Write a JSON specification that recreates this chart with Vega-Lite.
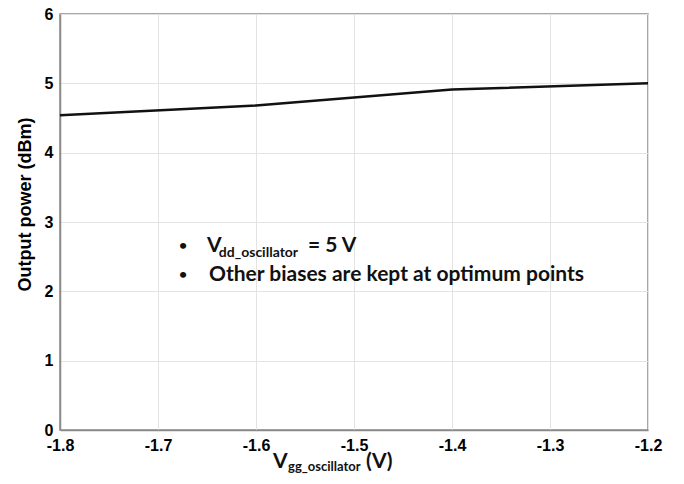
{
  "$schema": "https://vega.github.io/schema/vega-lite/v6.json",
  "width": 588,
  "height": 416,
  "autosize": {"type": "none"},
  "padding": {"left": 60, "top": 14, "right": 36, "bottom": 54},
  "background": "white",
  "config": {
    "view": {"stroke": "#8a8a8a", "strokeWidth": 1.5},
    "axis": {
      "labelFont": "Liberation Sans",
      "labelFontWeight": "bold",
      "labelFontSize": 16,
      "labelColor": "#000000",
      "gridColor": "#e3e3e3",
      "gridWidth": 1,
      "domainColor": "#8a8a8a",
      "domainWidth": 1.5,
      "ticks": false,
      "titleFont": "Liberation Sans",
      "titleFontWeight": "bold",
      "titleColor": "#000000"
    }
  },
  "datasets": {
    "curve": [
      {"vgg": -1.8, "pout": 4.54},
      {"vgg": -1.6, "pout": 4.68},
      {"vgg": -1.4, "pout": 4.91},
      {"vgg": -1.2, "pout": 5.0}
    ],
    "bullets": [
      {"x": -1.6745, "y": 2.66, "t": "•"},
      {"x": -1.6745, "y": 2.24, "t": "•"}
    ],
    "mainText": [
      {"x": -1.650, "y": 2.66, "t": "V"},
      {"x": -1.547, "y": 2.66, "t": "= 5 V"},
      {"x": -1.648, "y": 2.24, "t": "Other biases are kept at optimum points"},
      {"x": -1.5827, "y": -0.46, "t": "V"},
      {"x": -1.4878, "y": -0.46, "t": "(V)"}
    ],
    "subText": [
      {"x": -1.638, "y": 2.55, "t": "dd_oscillator"}
    ],
    "subTitle": [
      {"x": -1.5673, "y": -0.53, "t": "gg_oscillator"}
    ]
  },
  "encoding": {
    "x": {
      "type": "quantitative",
      "scale": {"domain": [-1.8, -1.2], "nice": false, "zero": false},
      "axis": {"values": [-1.8, -1.7, -1.6, -1.5, -1.4, -1.3, -1.2], "labelExpr": "replace(format(datum.value, '.1f'), '\u2212', '-')", "title": null, "labelPadding": 7, "labelFlush": false}
    },
    "y": {
      "type": "quantitative",
      "scale": {"domain": [0, 6], "nice": false},
      "axis": {"values": [0, 1, 2, 3, 4, 5, 6], "title": "Output power (dBm)", "titleFontSize": 18, "titlePadding": 10, "labelPadding": 7, "titleY": 190}
    }
  },
  "layer": [
    {
      "data": {"name": "curve"},
      "mark": {"type": "line", "color": "#111111", "strokeWidth": 2.5},
      "encoding": {
        "x": {"field": "vgg", "type": "quantitative"},
        "y": {"field": "pout", "type": "quantitative"}
      }
    },
    {
      "data": {"name": "bullets"},
      "mark": {"type": "text", "font": "Lato", "fontWeight": "bold", "fontSize": 14, "align": "center", "baseline": "middle", "color": "#111111"},
      "encoding": {
        "x": {"field": "x", "type": "quantitative"},
        "y": {"field": "y", "type": "quantitative"},
        "text": {"field": "t"}
      }
    },
    {
      "data": {"name": "mainText"},
      "mark": {"type": "text", "font": "Lato", "fontWeight": "bold", "fontSize": 21, "align": "left", "baseline": "middle", "color": "#111111"},
      "encoding": {
        "x": {"field": "x", "type": "quantitative"},
        "y": {"field": "y", "type": "quantitative"},
        "text": {"field": "t"}
      }
    },
    {
      "data": {"name": "subText"},
      "mark": {"type": "text", "font": "Lato", "fontWeight": "bold", "fontSize": 14, "align": "left", "baseline": "middle", "color": "#111111"},
      "encoding": {
        "x": {"field": "x", "type": "quantitative"},
        "y": {"field": "y", "type": "quantitative"},
        "text": {"field": "t"}
      }
    },
    {
      "data": {"name": "subTitle"},
      "mark": {"type": "text", "font": "Lato", "fontWeight": "bold", "fontSize": 13, "align": "left", "baseline": "middle", "color": "#111111"},
      "encoding": {
        "x": {"field": "x", "type": "quantitative"},
        "y": {"field": "y", "type": "quantitative"},
        "text": {"field": "t"}
      }
    }
  ]
}
